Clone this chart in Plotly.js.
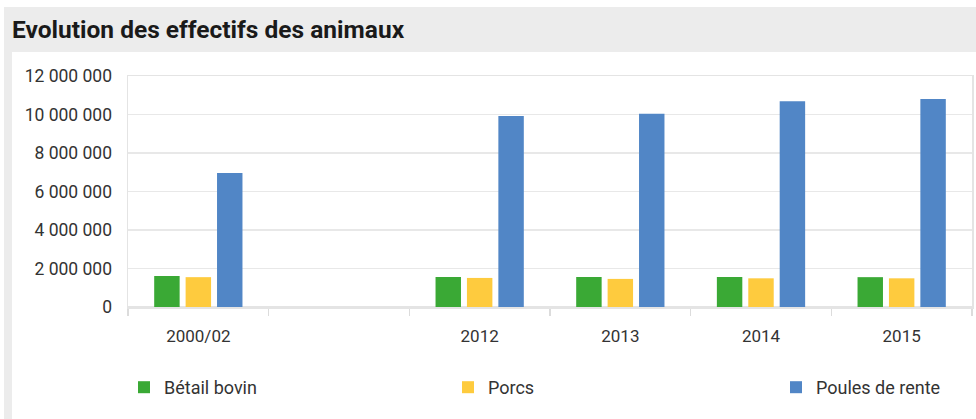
<!DOCTYPE html>
<html>
<head>
<meta charset="utf-8">
<script src="https://cdn.plot.ly/plotly-3.0.1.min.js"></script>
<style>html,body{margin:0;padding:0;background:#fff;}#chart{width:976px;height:419px;}</style>
</head>
<body>
<div id="chart"></div>
<script>
// Data
var categories = ['2000/02', '2012', '2013', '2014', '2015'];
var gapLabel = '\u00a0';
var axisCategories = ['2000/02', gapLabel, '2012', '2013', '2014', '2015'];
var seriesNames = ['Bétail bovin', 'Porcs', 'Poules de rente'];
var betailBovin = [1610000, 1560000, 1560000, 1560000, 1550000];
var porcs = [1550000, 1510000, 1460000, 1490000, 1490000];
var poulesDeRente = [6960000, 9920000, 10040000, 10690000, 10800000];
var yTickVals = [0, 2000000, 4000000, 6000000, 8000000, 10000000, 12000000];

var colors = ['#3aa935', '#fecb3e', '#5186c6'];
var values = [betailBovin, porcs, poulesDeRente];
var legendIds = ['legend', 'legend2', 'legend3'];
var legendX = [124, 448, 776];

var W = 976, H = 419;
var mL = 128, mR = 4, mT = 76, mB = 112;
var pw = W - mL - mR, ph = H - mT - mB;
function px(x) { return (x - mL) / pw; }
function py(y) { return (H - mB - y) / ph; }

var traces = values.map(function (v, i) {
  return {
    type: 'bar',
    name: seriesNames[i],
    x: categories,
    y: v,
    legend: legendIds[i],
    marker: { color: colors[i], line: { width: 0 } },
    hoverinfo: 'x+y+name'
  };
});

var font = 'Roboto, "Noto Sans", sans-serif';

function legendCfg(i) {
  return {
    orientation: 'h',
    xref: 'container', yref: 'container',
    x: legendX[i] / W, xanchor: 'left',
    y: 1 - 369 / H, yanchor: 'top',
    font: { family: font, size: 18, color: '#333333' },
    bgcolor: 'rgba(0,0,0,0)'
  };
}

var layout = {
  width: W, height: H,
  margin: { l: mL, r: mR, t: mT, b: mB, pad: 0 },
  paper_bgcolor: '#ffffff',
  plot_bgcolor: '#ffffff',
  separators: ', ',
  font: { family: font, size: 16, color: '#333333' },
  title: {
    text: '<b>Evolution des effectifs des animaux</b>',
    font: { family: font, size: 24.5, color: '#1a1a1a' },
    xref: 'container', yref: 'container',
    x: 12 / W, xanchor: 'left',
    y: 1 - 29 / H, yanchor: 'middle'
  },
  barmode: 'group',
  bargap: 0.33,
  bargroupgap: 0.19,
  showlegend: true,
  legend: legendCfg(0),
  legend2: legendCfg(1),
  legend3: legendCfg(2),
  xaxis: {
    type: 'category',
    categoryorder: 'array',
    categoryarray: axisCategories,
    range: [-0.5, 5.5],
    tickson: 'boundaries',
    ticks: 'outside',
    ticklen: 7,
    tickwidth: 1.5,
    tickcolor: '#dcdcdc',
    showgrid: false,
    showline: true,
    linecolor: '#e4e4e4',
    linewidth: 1.5,
    mirror: true,
    ticklabelstandoff: 13,
    tickfont: { family: font, size: 17, color: '#333333' },
    fixedrange: true
  },
  yaxis: {
    range: [0, 12000000],
    tickvals: yTickVals,
    tickformat: ',d',
    ticks: '',
    showgrid: true,
    gridcolor: '#e8e8e8',
    gridwidth: 1.5,
    zeroline: true,
    zerolinecolor: '#e4e4e4',
    zerolinewidth: 1.5,
    showline: true,
    linecolor: '#e4e4e4',
    linewidth: 1.5,
    mirror: true,
    ticklabelstandoff: 11,
    tickfont: { family: font, size: 17.5, color: '#333333' },
    fixedrange: true
  },
  shapes: [
    { type: 'rect', xref: 'paper', yref: 'paper', layer: 'below',
      x0: px(4), x1: px(980), y0: py(423), y1: py(7),
      fillcolor: '#ececec', line: { width: 0 } },
    { type: 'rect', xref: 'paper', yref: 'paper', layer: 'below',
      x0: px(12), x1: px(980), y0: py(423), y1: py(52),
      fillcolor: '#ffffff', line: { width: 0 } }
  ]
};

Plotly.newPlot('chart', traces, layout, { staticPlot: true, displayModeBar: false });
</script>
</body>
</html>
